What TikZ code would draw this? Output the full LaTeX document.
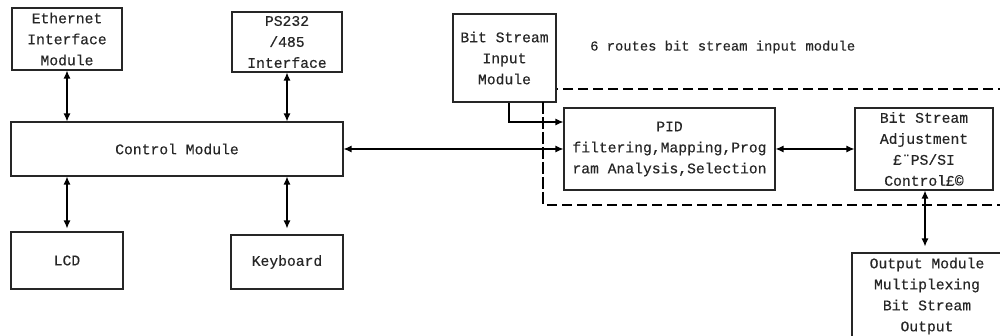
\documentclass[tikz,border=0pt]{standalone}
\usepackage{fontspec}
\setmainfont{Liberation Mono}
\newfontfamily\boxfont[FakeBold=0.35]{Liberation Mono}
\usetikzlibrary{arrows.meta}
\definecolor{ink}{gray}{0.15}
\tikzset{
  box/.style={draw=ink, line width=1.1pt, fill=white, inner sep=0pt, align=center,
    text=ink, font=\boxfont\fontsize{14.7}{21}\selectfont},
  conn/.style={draw=black, line width=1.2pt},
  tip/.style={-{Latex[length=8pt,width=7pt]}},
  biarrow/.style={{Latex[length=8pt,width=7pt]}-{Latex[length=8pt,width=7pt]}},
  region/.style={draw=black, line width=2pt, dash pattern=on 10pt off 5pt},
  lbl/.style={text=ink, font=\boxfont\fontsize{13.8}{18}\selectfont, inner sep=0pt}
}
\begin{document}
\begin{tikzpicture}[x=1pt,y=-1pt]
\useasboundingbox (0,0) rectangle (1000,336);
\clip (0,0) rectangle (1000,336);
% dashed region
\coordinate (r1) at (543,89);
\coordinate (r2) at (1012,205);
\draw[region] (r1) rectangle (r2);
% boxes
\node[box, minimum width=110pt, minimum height=62pt] (eth) at (67,39) {Ethernet\\Interface\\Module};
\node[box, minimum width=110pt, minimum height=60pt] (ps) at (287,42) {PS232\\/485\\Interface};
\node[box, minimum width=332pt, minimum height=54pt] (ctrl) at (177,149) {Control Module};
\node[box, minimum width=112pt, minimum height=57pt] (lcd) at (67,260.5) {LCD};
\node[box, minimum width=112pt, minimum height=54pt] (kb) at (287,262) {Keyboard};
\node[box, minimum width=103pt, minimum height=88pt] (in) at (504.5,58) {Bit Stream\\Input\\Module};
\node[box, minimum width=211pt, minimum height=82pt] (pid) at (669.5,149) {PID\\filtering,Mapping,Prog\\ram Analysis,Selection};
\node[box, minimum width=138pt, minimum height=82pt] (adj) at (924,149) {Bit Stream\\Adjustment\\£¨PS/SI\\Control£©};
\node[box, minimum width=150pt, minimum height=86pt] (out) at (927,296) {Output Module\\Multiplexing\\Bit Stream\\Output};
\node[lbl, anchor=west] (title) at (590,47) {6 routes bit stream input module};
% connectors
\draw[conn, biarrow] (eth.south) -- (eth.south |- ctrl.north);
\draw[conn, biarrow] (ps.south) -- (ps.south |- ctrl.north);
\draw[conn, biarrow, shorten >=3pt] (lcd.north |- ctrl.south) -- (lcd.north);
\draw[conn, biarrow, shorten >=6pt] (kb.north |- ctrl.south) -- (kb.north);
\draw[conn, biarrow] (ctrl.east) -- (pid.west);
\draw[conn, tip] ([xshift=4.5pt]in.south) |- ([yshift=27pt]pid.west);
\draw[conn, biarrow] (pid.east) -- (adj.west);
\draw[conn, biarrow, shorten >=6pt] ([xshift=1pt]adj.south) -- ([xshift=1pt]adj.south |- out.north);
% dashed left side redrawn over connectors
\draw[region] (543,102) -- (543,205);
\end{tikzpicture}
\end{document}
